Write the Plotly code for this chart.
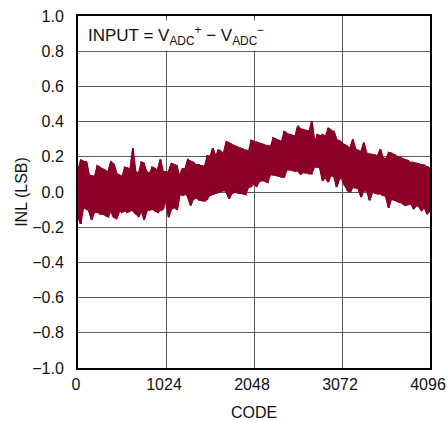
import plotly.graph_objects as go

# codes sampled every 32 LSB (0 .. 4096)
codes = list(range(0, 4097, 32))

# upper envelope of the INL band (LSB)
inl_top = [
    0.124, 0.181, 0.172, 0.172, 0.095, 0.090, 0.086, 0.147, 0.139, 0.128, 0.120, 0.113, 0.172, 0.158, 0.105, 0.095,
    0.086, 0.139, 0.135, 0.124, 0.248, 0.114, 0.105, 0.168, 0.162, 0.114, 0.105, 0.139, 0.133, 0.124, 0.185, 0.114,
    0.114, 0.114, 0.162, 0.153, 0.147, 0.086, 0.133, 0.128, 0.185, 0.172, 0.166, 0.153, 0.153, 0.147, 0.143, 0.204,
    0.200, 0.248, 0.200, 0.238, 0.229, 0.219, 0.286, 0.276, 0.267, 0.261, 0.254, 0.248, 0.242, 0.238, 0.229, 0.292,
    0.286, 0.282, 0.276, 0.271, 0.265, 0.261, 0.257, 0.305, 0.299, 0.292, 0.284, 0.343, 0.330, 0.326, 0.320, 0.315,
    0.375, 0.356, 0.353, 0.349, 0.343, 0.400, 0.276, 0.324, 0.318, 0.324, 0.315, 0.362, 0.349, 0.345, 0.296, 0.292,
    0.276, 0.267, 0.257, 0.248, 0.299, 0.242, 0.234, 0.229, 0.280, 0.219, 0.215, 0.212, 0.208, 0.204, 0.242, 0.191,
    0.187, 0.223, 0.219, 0.212, 0.200, 0.194, 0.189, 0.181, 0.177, 0.166, 0.166, 0.162, 0.158, 0.153, 0.151, 0.143,
    0.133,
]

# lower envelope of the INL band (LSB)
inl_bot = [
    -0.133, -0.181, -0.086, -0.095, -0.105, -0.158, -0.114, -0.114, -0.124, -0.124, -0.133, -0.139, -0.105, -0.143, -0.152, -0.105,
    -0.114, -0.105, -0.114, -0.105, -0.105, -0.124, -0.139, -0.105, -0.158, -0.105, -0.101, -0.097, -0.105, -0.114, -0.105, -0.095,
    -0.047, -0.143, -0.095, -0.086, -0.101, -0.009, -0.019, -0.009, -0.028, -0.076, -0.038, -0.032, -0.044, -0.047, -0.051, -0.038,
    -0.019, -0.009, -0.006, 0.000, 0.006, 0.010, 0.000, -0.038, -0.006, 0.000, -0.004, -0.006, -0.009, -0.013, 0.029, 0.033,
    0.048, 0.033, 0.063, 0.067, 0.063, 0.057, 0.101, 0.099, 0.095, 0.092, 0.086, 0.086, 0.128, 0.128, 0.124, 0.120,
    0.120, 0.101, 0.113, 0.109, 0.105, 0.105, 0.143, 0.143, 0.139, 0.063, 0.086, 0.057, 0.095, 0.090, 0.029, 0.076,
    0.076, 0.038, 0.010, 0.000, 0.029, 0.025, 0.019, -0.028, 0.010, 0.006, -0.047, 0.000, -0.004, -0.009, -0.009, -0.019,
    -0.025, -0.089, -0.038, -0.044, -0.051, -0.057, -0.063, -0.076, -0.070, -0.066, -0.095, -0.076, -0.082, -0.105, -0.086, -0.124,
    -0.105,
]

x_ticks = [0, 1024, 2048, 3072, 4096]
y_ticks = [-1.0, -0.8, -0.6, -0.4, -0.2, 0.0, 0.2, 0.4, 0.6, 0.8, 1.0]
y_tick_text = [("−" if v < 0 else "") + f"{abs(v):.1f}" for v in y_ticks]

# serpentine path through the band so every sampled code is drawn top-to-bottom
xs, ys = [], []
for i, c in enumerate(codes):
    if i % 2 == 0:
        xs += [c, c]
        ys += [inl_top[i], inl_bot[i]]
    else:
        xs += [c, c]
        ys += [inl_bot[i], inl_top[i]]

RED = "#8c0028"
FONT = "Liberation Sans, Arial, sans-serif"

fig = go.Figure()
# solid band between the envelopes
fig.add_trace(go.Scatter(x=codes + codes[::-1], y=inl_top + inl_bot[::-1],
                         mode="lines", fill="toself", fillcolor=RED,
                         line=dict(color=RED, width=1.5), hoverinfo="skip",
                         showlegend=False))
fig.add_trace(go.Scatter(x=xs, y=ys, mode="lines",
                         line=dict(color=RED, width=2), hoverinfo="skip",
                         showlegend=False))

fig.update_layout(
    template="none",
    width=447, height=421,
    margin=dict(l=78, r=17, t=16, b=53, pad=0),
    paper_bgcolor="white", plot_bgcolor="white",
    font=dict(family=FONT, size=16, color="#111"),
    xaxis=dict(range=[0, 4096], tickvals=x_ticks, ticktext=[str(v) for v in x_ticks],
               showgrid=True, gridcolor="#5a5a5a", gridwidth=1,
               showline=True, linecolor="black", linewidth=2, mirror=True,
               zeroline=False, ticks="", ticklabelstandoff=1, ticklabelshift=-2,
               tickfont=dict(size=16),
               ticklabeloverflow="allow", automargin=False,
               title=dict(text="CODE", font=dict(size=16))),
    yaxis=dict(range=[-1, 1], tickvals=y_ticks, ticktext=y_tick_text,
               showgrid=True, gridcolor="#5a5a5a", gridwidth=1,
               showline=True, linecolor="black", linewidth=2, mirror=True,
               zeroline=False, ticks="", ticklabelstandoff=9,
               tickfont=dict(size=16),
               ticklabeloverflow="allow", automargin=False,
               title=dict(text="INL (LSB)", font=dict(size=16))),
    annotations=[dict(
        text="INPUT = V<sub>ADC</sub><sup>+</sup> − V<sub>ADC</sub><sup>−</sup>",
        xref="paper", yref="paper", x=0.02, y=0.99, xanchor="left", yanchor="top",
        showarrow=False, bgcolor="white", borderpad=2,
        font=dict(family=FONT, size=17, color="#111"), align="left")],
)

fig.write_html("out.html", config={"displayModeBar": False},
               post_script="document.body.style.margin='0';")
